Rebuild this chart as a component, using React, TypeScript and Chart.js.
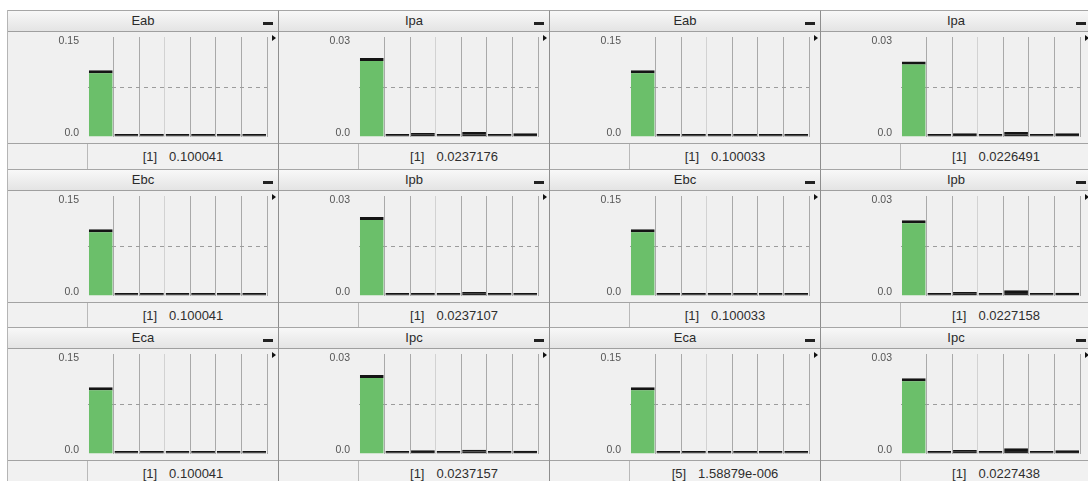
import React, { useEffect, useRef } from "react";
import { Chart, registerables } from "chart.js";

Chart.register(...registerables);

// ---------- data ----------
const categories = ["1", "2", "3", "4", "5", "6", "7"];

const panelTitles = ["Eab", "Ipa", "Eab", "Ipa", "Ebc", "Ipb", "Ebc", "Ipb", "Eca", "Ipc", "Eca", "Ipc"];
const footerIndices = ["[1]", "[1]", "[1]", "[1]", "[1]", "[1]", "[1]", "[1]", "[1]", "[1]", "[5]", "[1]"];
const footerValues = [
  "0.100041", "0.0237176", "0.100033", "0.0226491",
  "0.100041", "0.0237107", "0.100033", "0.0227158",
  "0.100041", "0.0237157", "1.58879e-006", "0.0227438",
];
const yMaxValues = [0.15, 0.03, 0.15, 0.03, 0.15, 0.03, 0.15, 0.03, 0.15, 0.03, 0.15, 0.03];
const yMaxLabels = ["0.15", "0.03", "0.15", "0.03", "0.15", "0.03", "0.15", "0.03", "0.15", "0.03", "0.15", "0.03"];
const yMinLabel = "0.0";

const seriesEabA = [0.100041, 0.000001, 0.000001, 0.000002, 0.000001, 0.000002, 0.000001];
const seriesIpaA = [0.0237176, 0.0002, 0.0012, 0.0002, 0.0015, 0.0002, 0.0011];
const seriesEabB = [0.100033, 0.000001, 0.000002, 0.000001, 0.000001, 0.000002, 0.000001];
const seriesIpaB = [0.0226491, 0.0002, 0.0011, 0.0001, 0.0015, 0.0002, 0.0011];
const seriesEbcA = [0.100041, 0.000001, 0.000001, 0.000002, 0.000001, 0.000001, 0.000002];
const seriesIpbA = [0.0237107, 0.0002, 0.0009, 0.0002, 0.0012, 0.0002, 0.0009];
const seriesEbcB = [0.100033, 0.000002, 0.000001, 0.000001, 0.000001, 0.000002, 0.000001];
const seriesIpbB = [0.0227158, 0.0002, 0.0012, 0.0002, 0.0017, 0.0002, 0.001];
const seriesEcaA = [0.100041, 0.000001, 0.000002, 0.000001, 0.000001, 0.000001, 0.000002];
const seriesIpcA = [0.0237157, 0.0002, 0.0011, 0.0002, 0.0013, 0.0002, 0.001];
const seriesEcaB = [0.100033, 0.000001, 0.000001, 0.000001, 0.00000158879, 0.000001, 0.000001];
const seriesIpcB = [0.0227438, 0.0002, 0.0012, 0.0001, 0.0017, 0.0002, 0.0011];

const panelSeries = [
  seriesEabA, seriesIpaA, seriesEabB, seriesIpaB,
  seriesEbcA, seriesIpbA, seriesEbcB, seriesIpbB,
  seriesEcaA, seriesIpcA, seriesEcaB, seriesIpcB,
];

// ---------- styles ----------
const GREEN = "#6bbf6a";
const DARK = "#262626";
const FONT = '"Liberation Sans", Arial, sans-serif';

const endLabelsPlugin = {
  id: "endLabels",
  afterDraw(chart: any, _args: any, opts: any) {
    const { ctx, chartArea, scales } = chart;
    const y = scales.y;
    ctx.save();
    ctx.font = `10.5px ${FONT}`;
    ctx.fillStyle = "#555";
    ctx.textAlign = "right";
    ctx.textBaseline = "middle";
    ctx.fillText(opts.top, chartArea.left - 9, y.getPixelForValue(y.max) + 4);
    ctx.fillText(opts.bottom, chartArea.left - 9, y.getPixelForValue(y.min) - 4);
    ctx.restore();
  },
};

function MiniBar({ values, yMax, topLabel }: { values: number[]; yMax: number; topLabel: string }) {
  const ref = useRef<HTMLCanvasElement | null>(null);
  useEffect(() => {
    if (!ref.current) return;
    const chart = new Chart(ref.current, {
      type: "bar",
      data: {
        labels: categories,
        datasets: [
          {
            data: values,
            backgroundColor: values.map((_, i) => (i === 0 ? GREEN : DARK)),
            borderColor: "#141414",
            borderWidth: { top: 3, left: 0, right: 0, bottom: 0 },
            borderSkipped: false,
            minBarLength: 3,
            categoryPercentage: 1,
            barPercentage: 0.93,
          },
        ],
      },
      options: {
        animation: false,
        responsive: true,
        maintainAspectRatio: false,
        events: [],
        layout: { padding: { left: 80, right: 11, top: 5, bottom: 6 } },
        plugins: {
          legend: { display: false },
          tooltip: { enabled: false },
          endLabels: { top: topLabel, bottom: yMinLabel },
        } as any,
        scales: {
          x: {
            display: true,
            ticks: { display: false },
            border: { display: false },
            grid: {
              offset: true,
              drawTicks: false,
              lineWidth: 1,
              color: (ctx: any) =>
                ctx.index === 0 ? "rgba(0,0,0,0)" : ctx.index === 3 ? "#d2d2d2" : "#a9a9a9",
            },
          },
          y: {
            display: true,
            min: 0,
            max: yMax,
            afterBuildTicks: (scale: any) => {
              scale.ticks = [{ value: 0 }, { value: yMax / 2 }, { value: yMax }];
            },
            ticks: { display: false },
            border: { display: false, dash: [4, 4] },
            grid: {
              drawTicks: false,
              lineWidth: 1,
              color: (ctx: any) => (ctx.index === 1 ? "#9c9c9c" : "rgba(0,0,0,0)"),
            },
          },
        },
      },
      plugins: [endLabelsPlugin],
    } as any);
    return () => chart.destroy();
  }, [values, yMax, topLabel]);
  return <canvas ref={ref} />;
}

function Panel({ i }: { i: number }) {
  return (
    <div
      style={{
        width: 270,
        height: 158.5,
        borderRight: "1px solid #8e8e8e",
        borderTop: "1px solid #a6a6a6",
        boxSizing: "content-box",
        background: "#f0f0f0",
        position: "relative",
        overflow: "hidden",
      }}
    >
      <div
        style={{
          height: 20,
          borderBottom: "1px solid #9f9f9f",
          background: "linear-gradient(#f8f8f8, #e4e4e4)",
          position: "relative",
          textAlign: "center",
          font: `13px ${FONT}`,
          color: "#2a2a2a",
          lineHeight: "20px",
        }}
      >
        {panelTitles[i]}
        <div
          style={{
            position: "absolute",
            right: 5,
            bottom: 6,
            width: 10,
            height: 3,
            background: "#222",
          }}
        />
      </div>
      <div style={{ position: "relative", width: 270, height: 111 }}>
        <MiniBar values={panelSeries[i]} yMax={yMaxValues[i]} topLabel={yMaxLabels[i]} />
        <div
          style={{
            position: "absolute",
            left: 264,
            top: 3,
            width: 0,
            height: 0,
            borderLeft: "4px solid #111",
            borderTop: "3px solid transparent",
            borderBottom: "3px solid transparent",
          }}
        />
      </div>
      <div
        style={{
          borderTop: "1px solid #a3a3a3",
          height: 25,
          display: "flex",
          background: "#f1f1f1",
        }}
      >
        <div style={{ width: 79, borderRight: "1px solid #b9b9b9" }} />
        <div
          style={{
            flex: 1,
            textAlign: "center",
            font: `13px ${FONT}`,
            color: "#2e2e2e",
            lineHeight: "25px",
            whiteSpace: "pre",
          }}
        >
          <span>{footerIndices[i]}</span>
          <span style={{ marginLeft: 12 }}>{footerValues[i]}</span>
        </div>
      </div>
    </div>
  );
}

export default function App() {
  useEffect(() => {
    document.body.style.margin = "0";
    document.body.style.background = "#ffffff";
  }, []);
  return (
    <div
      style={{
        position: "absolute",
        left: 7,
        top: 10,
        width: 1100,
        display: "grid",
        gridTemplateColumns: "repeat(4, 271px)",
        gridTemplateRows: "repeat(3, 158.5px)",
        borderLeft: "1px solid #b5b5b5",
      }}
    >
      {panelTitles.map((_, i) => (
        <Panel key={i} i={i} />
      ))}
    </div>
  );
}
